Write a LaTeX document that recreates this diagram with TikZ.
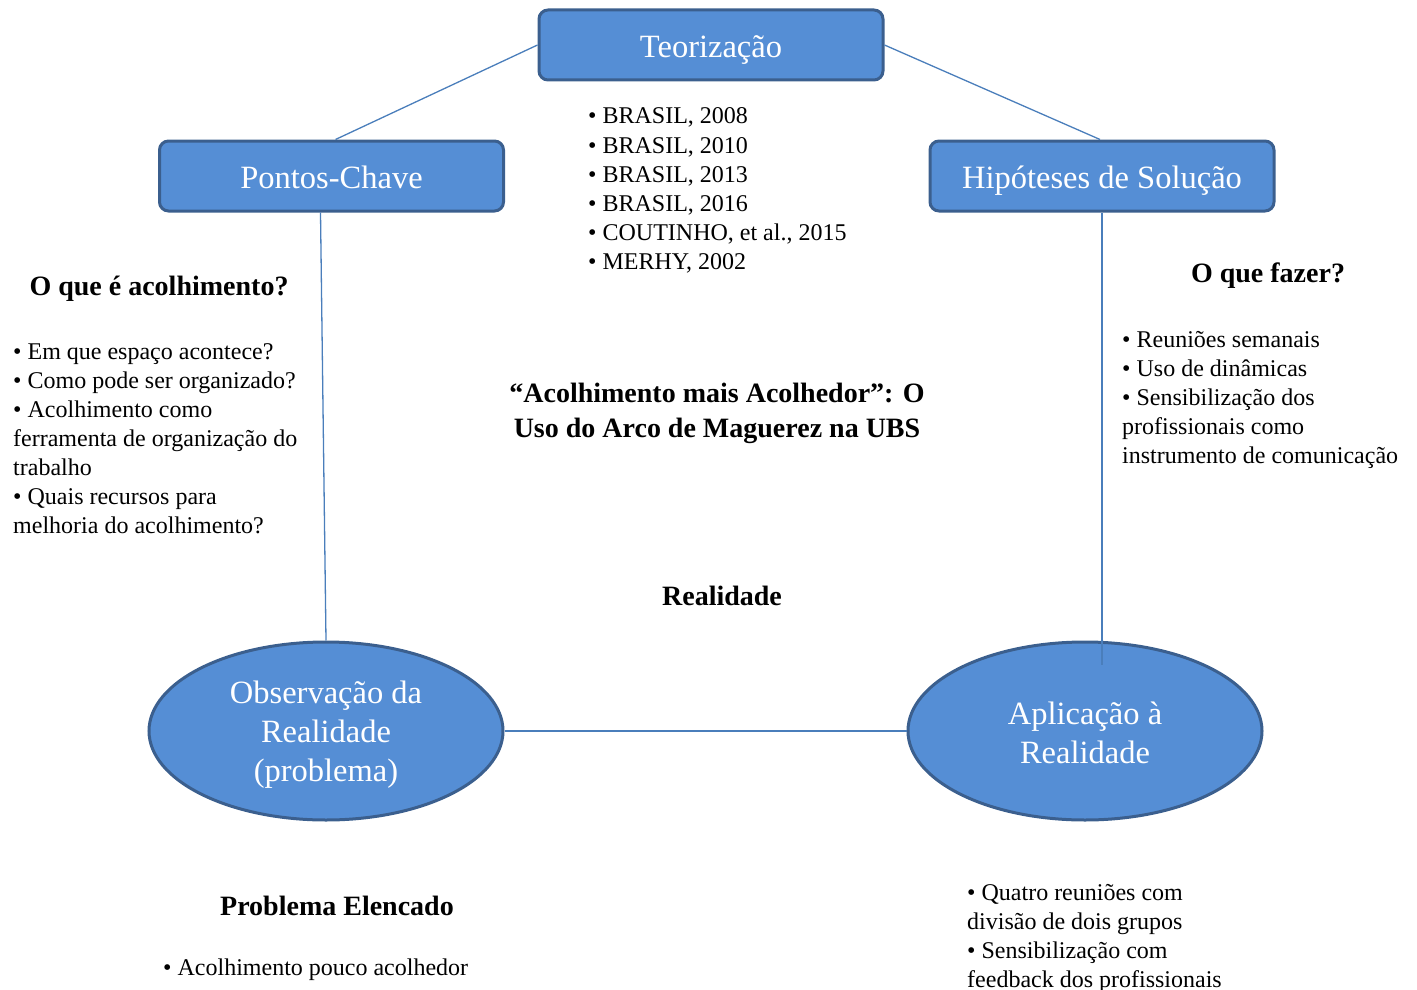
\documentclass[tikz,border=0pt]{standalone}
\usepackage{fontspec}
\setmainfont{Liberation Serif}
\usetikzlibrary{shapes.geometric,calc}
\definecolor{boxfill}{HTML}{558ED5}
\definecolor{boxedge}{HTML}{3B5F8E}
\definecolor{linkc}{HTML}{4A7EBB}
\tikzset{
  stagebox/.style={draw=boxedge, line width=3pt, fill=boxfill, rounded corners=9pt,
    minimum width=344pt, minimum height=70pt, inner sep=0pt, text=white,
    text height=30pt, text depth=5pt,
    font=\fontsize{32.5}{38}\selectfont},
  stageell/.style={draw=boxedge, line width=3pt, fill=boxfill, ellipse,
    minimum width=354pt, minimum height=178pt, inner sep=0pt},
  elltext/.style={inner sep=0pt, text=white, align=center,
    font=\fontsize{32.5}{39}\selectfont},
  link/.style={draw=linkc, line width=1.3pt},
  item/.style={anchor=base west, inner sep=0pt, font=\fontsize{24}{29}\selectfont},
  heading/.style={anchor=base, inner sep=0pt, font=\fontsize{28}{35}\selectfont\bfseries},
}
\begin{document}
\begin{tikzpicture}[x=1pt,y=-1pt]
\useasboundingbox (0,0) rectangle (1417,990);
% shapes
\node[stagebox] (teo) at (711,45) {Teorização};
\node[stagebox] (pc) at (331.5,176) {Pontos-Chave};
\node[stagebox] (hip) at (1102,176) {Hipóteses de Solução};
\node[stageell] (obs) at (326,731) {};
\node[elltext] (obstxt) at ($(obs.center)+(0,3.5)$) {Observação da\\Realidade\\(problema)};
\node[stageell] (apl) at (1085,731) {};
\node[elltext] (apltxt) at ($(apl.center)+(0,1.5)$) {Aplicação à\\Realidade};
\coordinate (hipend) at (1102,665);
% connectors
\draw[link] (teo.west) -- ($(pc.north)+(4,0)$);
\draw[link] (teo.east) -- ($(hip.north)+(-2,0)$);
\draw[link] ($(pc.south)+(-11,0)$) -- (obs.north);
\draw[link] (hip.south) -- (hipend);
\draw[link] (obs.east) -- (apl.west);
% references list
\node[item] (r1) at (588,124) {• BRASIL, 2008};
\node[item] (r2) at (588,153) {• BRASIL, 2010};
\node[item] (r3) at (588,182) {• BRASIL, 2013};
\node[item] (r4) at (588,211) {• BRASIL, 2016};
\node[item] (r5) at (588,240) {• COUTINHO, et al., 2015};
\node[item] (r6) at (588,269) {• MERHY, 2002};
% left
\node[heading] (qa) at (159,295) {O que é acolhimento?};
\node[item] (l1) at (13,359) {• Em que espaço acontece?};
\node[item] (l2) at (13,388) {• Como pode ser organizado?};
\node[item] (l3) at (13,417) {• Acolhimento como};
\node[item] (l4) at (13,446) {ferramenta de organização do};
\node[item] (l5) at (13,475) {trabalho};
\node[item] (l6) at (13,504) {• Quais recursos para};
\node[item] (l7) at (13,533) {melhoria do acolhimento?};
% right
\node[heading] (qf) at (1268,282) {O que fazer?};
\node[item] (f1) at (1122,347) {• Reuniões semanais};
\node[item] (f2) at (1122,376) {• Uso de dinâmicas};
\node[item] (f3) at (1122,405) {• Sensibilização dos};
\node[item] (f4) at (1122,434) {profissionais como};
\node[item] (f5) at (1122,463) {instrumento de comunicação};
% center
\node[heading] (t1) at (717,402) {“Acolhimento mais Acolhedor”: O};
\node[heading] (t2) at (717,437) {Uso do Arco de Maguerez na UBS};
\node[heading] (real) at (722,605) {Realidade};
% bottom
\node[heading] (pe) at (337,915) {Problema Elencado};
\node[item] (p1) at (163,975) {• Acolhimento pouco acolhedor};
\node[item] (a1) at (967,900) {• Quatro reuniões com};
\node[item] (a2) at (967,929) {divisão de dois grupos};
\node[item] (a3) at (967,958) {• Sensibilização com};
\node[item] (a4) at (967,987) {feedback dos profissionais};
\end{tikzpicture}
\end{document}
